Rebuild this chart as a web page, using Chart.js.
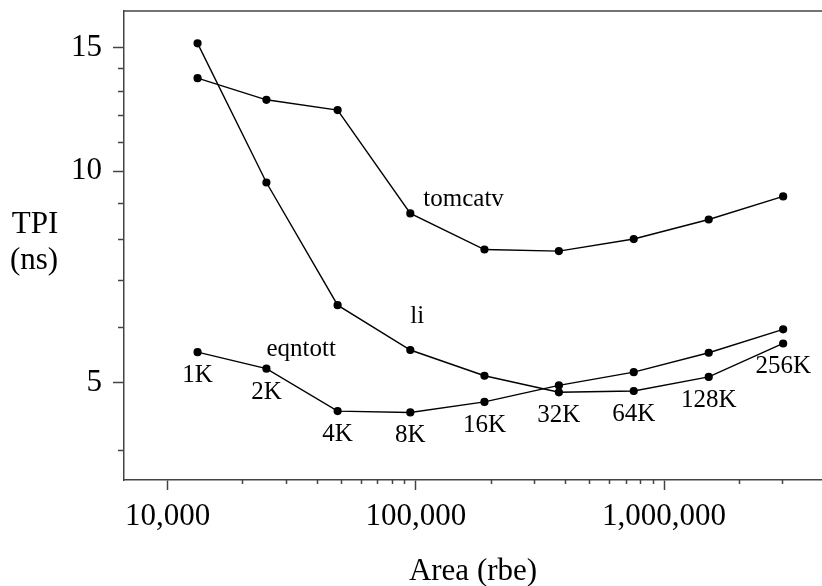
<!DOCTYPE html>
<html>
<head>
<meta charset="utf-8">
<script src="https://cdn.jsdelivr.net/npm/chart.js@4"></script>
<style>
  html, body { margin: 0; padding: 0; background: #fff; overflow: hidden; }
  canvas { display: block; }
</style>
</head>
<body>
<canvas id="chartTpi" width="822" height="586"></canvas>
<script>
// area (rbe) for each cache size
var cacheSizes = ['1K', '2K', '4K', '8K', '16K', '32K', '64K', '128K', '256K'];
var areas = [13200, 25000, 48400, 95000, 189000, 377000, 755000, 1514000, 3020000];

// TPI (ns)
var tomcatv = [13.56, 12.63, 12.21, 8.70, 7.73, 7.69, 8.00, 8.53, 9.20];
var li = [15.2, 9.63, 6.44, 5.56, 5.11, 4.84, 4.86, 5.09, 5.68];
var eqntott = [5.52, 5.23, 4.55, 4.53, 4.69, 4.95, 5.17, 5.51, 5.95];

var xMajor = [10000, 100000, 1000000];
var xMinor = [20000, 30000, 40000, 50000, 60000, 70000, 80000, 90000,
              200000, 300000, 400000, 500000, 600000, 700000, 800000, 900000,
              2000000, 3000000];
var yMajor = [5, 10, 15];
var yMinor = [4, 6, 7, 8, 9, 11, 12, 13, 14];

var serif = "'Liberation Serif', 'Times New Roman', serif";
var axisColor = '#444';

var toPoints = function (ys) {
     return areas.map(function (a, i) { return {x: a, y: ys[i]}; });
};

var mkSet = function (name, ys) {
     return {
          label: name,
          data: toPoints(ys),
          borderColor: '#000',
          backgroundColor: '#000',
          borderWidth: 1.4,
          pointRadius: 3.4,
          pointHoverRadius: 3.4,
          tension: 0
     };
};

// no extra room for end labels, the frame is set by hand
var noPad = function (scale) {
     scale.paddingTop = 0;
     scale.paddingBottom = 0;
     scale.paddingLeft = 0;
     scale.paddingRight = 0;
};

var extras = {
     id: 'extras',
     afterDraw: function (chart) {
          var ctx = chart.ctx;
          var area = chart.chartArea;
          var xs = chart.scales.x, ys = chart.scales.y;
          ctx.save();

          // top frame line
          ctx.strokeStyle = axisColor;
          ctx.lineWidth = 1.5;
          ctx.beginPath();
          ctx.moveTo(area.left, area.top);
          ctx.lineTo(chart.width, area.top);
          ctx.stroke();

          // minor ticks
          ctx.beginPath();
          xMinor.forEach(function (v) {
               var px = Math.round(xs.getPixelForValue(v)) + 0.5;
               ctx.moveTo(px, area.bottom);
               ctx.lineTo(px, area.bottom + 4);
          });
          yMinor.forEach(function (v) {
               var py = Math.round(ys.getPixelForValue(v)) + 0.5;
               ctx.moveTo(area.left, py);
               ctx.lineTo(area.left - 6, py);
          });
          ctx.stroke();

          // axis titles
          ctx.fillStyle = '#000';
          ctx.font = '31px ' + serif;
          ctx.textAlign = 'center';
          ctx.textBaseline = 'alphabetic';
          ctx.fillText('TPI', 35, 233);
          ctx.fillText('(ns)', 34, 269);
          ctx.fillText('Area (rbe)', (area.left + area.right) / 2, 580);

          // series names
          ctx.font = '25px ' + serif;
          ctx.textAlign = 'left';
          ctx.fillText('tomcatv', xs.getPixelForValue(areas[3]) + 13, ys.getPixelForValue(tomcatv[3]) - 7);
          ctx.fillText('eqntott', xs.getPixelForValue(areas[1]), ys.getPixelForValue(eqntott[1]) - 13);
          ctx.textAlign = 'center';
          ctx.fillText('li', xs.getPixelForValue(areas[3]) + 7, ys.getPixelForValue(li[3]) - 27);

          // cache size labels under the lowest point
          cacheSizes.forEach(function (s, i) {
               var low = Math.min(li[i], eqntott[i]);
               ctx.fillText(s, xs.getPixelForValue(areas[i]), ys.getPixelForValue(low) + 30);
          });
          ctx.restore();
     }
};

var config = {
     type: 'line',
     data: {
          datasets: [mkSet('tomcatv', tomcatv), mkSet('li', li), mkSet('eqntott', eqntott)]
     },
     options: {
          responsive: false,
          animation: false,
          layout: { autoPadding: false, padding: { top: 11, right: 0, left: 0, bottom: 0 } },
          plugins: {
               legend: { display: false },
               tooltip: { enabled: false }
          },
          scales: {
               x: {
                    type: 'logarithmic',
                    min: 6670,
                    max: 4330000,
                    afterBuildTicks: function (scale) {
                         scale.ticks = xMajor.map(function (v) { return {value: v}; });
                    },
                    afterFit: function (scale) { scale.height = 106; noPad(scale); },
                    border: { display: true, color: axisColor, width: 1.5 },
                    grid: { drawOnChartArea: false, drawTicks: true, tickLength: 10, tickColor: axisColor, tickWidth: 1.5 },
                    ticks: {
                         autoSkip: false,
                         maxRotation: 0,
                         padding: 8,
                         color: '#000',
                         font: { family: serif, size: 31 },
                         callback: function (v) { return Number(v).toLocaleString('en-US'); }
                    }
               },
               y: {
                    type: 'logarithmic',
                    min: 3.63,
                    max: 16.9,
                    afterBuildTicks: function (scale) {
                         scale.ticks = yMajor.map(function (v) { return {value: v}; });
                    },
                    afterFit: function (scale) { scale.width = 124; noPad(scale); },
                    border: { display: true, color: axisColor, width: 1.5 },
                    grid: { drawOnChartArea: false, drawTicks: true, tickLength: 11, tickColor: axisColor, tickWidth: 1.5 },
                    ticks: {
                         autoSkip: false,
                         padding: 11,
                         color: '#000',
                         font: { family: serif, size: 31 },
                         callback: function (v) { return String(v); }
                    }
               }
          }
     },
     plugins: [extras]
};

window.onload = function () {
     var ctx = document.getElementById('chartTpi').getContext('2d');
     window.tpiChart = new Chart(ctx, config);
};
</script>
</body>
</html>
